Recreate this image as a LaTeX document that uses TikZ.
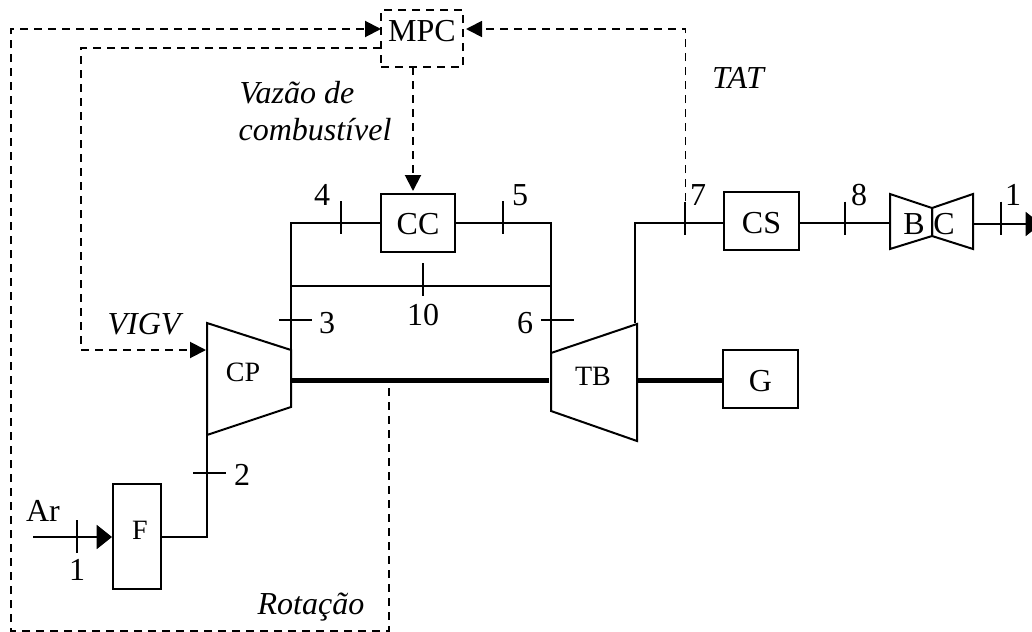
\documentclass[tikz,border=0pt]{standalone}
\usepackage{fontspec}
\setmainfont{Liberation Serif}
\usetikzlibrary{arrows.meta}
\tikzset{
  ln/.style={line width=1.5pt,line join=miter},
  tickmark/.style={line width=1.1pt},
  shaft/.style={line width=3.8pt},
  sig/.style={line width=1.5pt,dash pattern=on 6pt off 4.5pt},
  sigthin/.style={line width=1.3pt,dash pattern=on 6pt off 4.5pt},
  tip/.style={-{Triangle[length=12pt,width=12pt]}},
  bigtip/.style={-{Triangle[length=11.5pt,width=18pt]}},
  bx/.style={draw,line width=1.5pt,inner sep=0pt,align=center,font=\fontsize{24}{24}\selectfont},
  lb/.style={inner sep=0pt,anchor=base,font=\fontsize{24}{24}\selectfont},
  lbi/.style={inner sep=0pt,anchor=base,font=\fontsize{24}{24}\selectfont\itshape},
  lbs/.style={inner sep=0pt,anchor=base,font=\fontsize{21}{21}\selectfont}
}
\begin{document}
\begin{tikzpicture}[x=.75pt,y=-.75pt]
\useasboundingbox (0,0) rectangle (1032,632);

% boxes
\node[bx,dash pattern=on 6pt off 4.5pt,line width=1.5pt,minimum width=61.5pt,text height=23.25pt,text depth=19.5pt] (mpc) at (422,38.5) {MPC};
\node[bx,minimum width=55.5pt,text height=30pt,text depth=13.5pt] (cc) at (418,223) {CC};
\node[bx,minimum width=56.25pt,text height=30.75pt,text depth=12.75pt] (cs) at (761.5,221) {CS};
\node[bx,minimum width=56.25pt,text height=30.75pt,text depth=12.75pt] (g) at (760.5,379) {G};
\node[bx,font=\fontsize{21}{21}\selectfont,minimum width=36pt,text height=41.25pt,text depth=37.5pt] (f) at (137,536.5) {\hspace*{4.5pt}F};

% trapezoids
\coordinate (cpA) at (207,323); \coordinate (cpB) at (291,350);
\coordinate (cpC) at (291,407); \coordinate (cpD) at (207,435);
\draw[ln] (cpA) -- (cpB) -- (cpC) -- (cpD) -- cycle;
\node[lbs] (cp) at (243,381) {CP};
\coordinate (tbA) at (551,353); \coordinate (tbB) at (637,324);
\coordinate (tbC) at (637,441); \coordinate (tbD) at (551,411);
\draw[ln] (tbA) -- (tbB) -- (tbC) -- (tbD) -- cycle;
\node[lbs] (tb) at (593,385) {TB};

% bowtie
\coordinate (bA) at (890,194); \coordinate (bB) at (932,208);
\coordinate (bC) at (932,236); \coordinate (bD) at (890,249);
\coordinate (cA) at (973,194); \coordinate (cD) at (973,249);
\draw[ln] (bA) -- (bB) -- (bC) -- (bD) -- cycle;
\draw[ln] (cA) -- (bB) -- (bC) -- (cD) -- cycle;
\node[lb] (b) at (914,234) {B};
\node[lb] (c) at (944,234) {C};
\coordinate (bW) at (890,223); \coordinate (cE) at (973,224);

% junctions
\coordinate (j4) at (291,223); \coordinate (j5) at (551,223);
\coordinate (j10a) at (291,286); \coordinate (j10b) at (551,286);
\coordinate (j7) at (635,223); \coordinate (tbOut) at (635,323);
\coordinate (fOut) at (207,537); \coordinate (cpIn) at (207,435);
\coordinate (arIn) at (33,537); \coordinate (exitEnd) at (1041,224);
\coordinate (shL) at (290,380.5); \coordinate (shR) at (549,380.5);
\coordinate (sh2L) at (638,380.5);

% process lines
\draw[ln] (cc.west) -- (j4) -- (cpB);
\draw[ln] (cc.east) -- (j5) -- (tbA);
\draw[ln] (j10a) -- (j10b);
\draw[ln] (tbOut) -- (j7) -- (cs.west |- j7);
\draw[ln] (cs.east |- bW) -- (bW);
\draw[ln,bigtip] (cE) -- (exitEnd);
\draw[ln,bigtip] (arIn) -- (f.west |- arIn);
\draw[ln] (f.east |- fOut) -- (fOut) -- (cpIn);
\draw[shaft] (shL) -- (shR);
\draw[shaft] (sh2L) -- (sh2L -| g.west);

% ticks
\foreach \n/\x/\y in {t4/341/217.5,t5/503/217.5,t10/423/279.5,t7/685/218,t8/845/218,t1b/1001/218,t1a/77/536.5}
  {\coordinate (\n) at (\x,\y); \draw[tickmark] (\n) ++(0,-16.5) -- ++(0,33);}
\foreach \n/\x/\y in {t3/295.5/320,t6/557.5/320,t2/209.5/473}
  {\coordinate (\n) at (\x,\y); \draw[tickmark] (\n) ++(-16.5,0) -- ++(33,0);}

% signal lines
\coordinate (rotS) at (389,388); \coordinate (rotB) at (389,631);
\coordinate (rotL) at (11,631); \coordinate (rotT) at (11,29);
\coordinate (mpcInL) at (381,29);
\draw[sig,tip] (rotS) -- (rotB) -- (rotL) -- (rotT) -- (mpcInL);
\coordinate (vS) at (381,48); \coordinate (vA) at (81,48);
\coordinate (vB) at (81,350); \coordinate (vE) at (206,350);
\draw[sig,tip] (vS) -- (vA) -- (vB) -- (vE);
\coordinate (fS) at (413,67); \coordinate (fE) at (413,191);
\draw[sig,tip] (fS) -- (fE);
\coordinate (tS) at (685.5,201); \coordinate (tA) at (685.5,29);
\coordinate (tE) at (466,29);
\draw[sigthin,tip] (tS) -- (tA) -- (tE);

% labels
\node[lb] (n4) at (322,205) {4};
\node[lb] (n5) at (520,205) {5};
\node[lb] (n7) at (698,205) {7};
\node[lb] (n8) at (859,205) {8};
\node[lb] (n1b) at (1013,205) {1};
\node[lb] (n3) at (327,333) {3};
\node[lb] (n10) at (423,325) {10};
\node[lb] (n6) at (525,333) {6};
\node[lb] (n2) at (242,485) {2};
\node[lb] (n1a) at (77,580) {1};
\node[lb] (ar) at (43,521) {Ar};
\node[lbi] (vazao) at (297,103) {Vazão de};
\node[lbi] (comb) at (315,140) {combustível};
\node[lbi] (tat) at (738,88) {TAT};
\node[lbi] (vigv) at (144,334) {VIGV};
\node[lbi] (rot) at (311,614) {Rotação};
\end{tikzpicture}
\end{document}
